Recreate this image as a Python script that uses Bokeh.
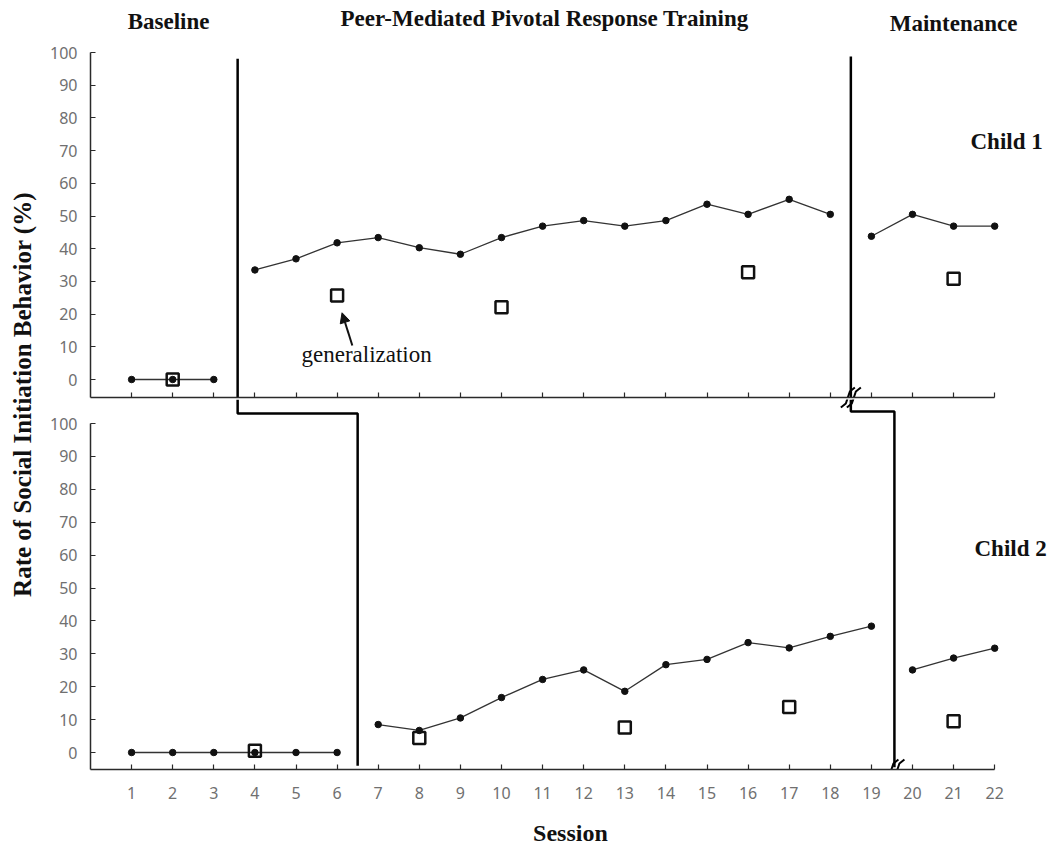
from bokeh.plotting import figure
from bokeh.layouts import row, column
from bokeh.models import Range1d, FixedTicker, Arrow, NormalHead
from bokeh.embed import file_html
from bokeh.resources import INLINE

# ---------------- data ----------------
c1_base_sessions = [1, 2, 3]
c1_base = [0, 0, 0]
c1_int_sessions = [4, 5, 6, 7, 8, 9, 10, 11, 12, 13, 14, 15, 16, 17, 18]
c1_int = [33.5, 36.9, 41.8, 43.4, 40.3, 38.3, 43.4, 46.9, 48.6, 46.9, 48.6, 53.6, 50.5, 55.1, 50.5]
c1_maint_sessions = [19, 20, 21, 22]
c1_maint = [43.8, 50.5, 46.9, 46.9]
c1_gen_sessions = [2, 6, 10, 16, 21]
c1_gen = [0, 25.7, 22.1, 32.8, 30.8]

c2_base_sessions = [1, 2, 3, 4, 5, 6]
c2_base = [0, 0, 0, 0, 0, 0]
c2_int_sessions = [7, 8, 9, 10, 11, 12, 13, 14, 15, 16, 17, 18, 19]
c2_int = [8.5, 6.7, 10.5, 16.7, 22.2, 25.1, 18.6, 26.7, 28.3, 33.4, 31.8, 35.3, 38.4]
c2_maint_sessions = [20, 21, 22]
c2_maint = [25.1, 28.7, 31.7]
c2_gen_sessions = [4, 8, 13, 17, 21]
c2_gen = [0.5, 4.4, 7.6, 13.8, 9.5]

y_ticks = [0, 10, 20, 30, 40, 50, 60, 70, 80, 90, 100]
x_ticks = list(range(1, 23))

phase_labels = ["Baseline", "Peer-Mediated Pivotal Response Training", "Maintenance"]
child_labels = ["Child 1", "Child 2"]
y_title = "Rate of Social Initiation Behavior (%)"
x_title = "Session"
gen_note = "generalization"

# phase-change positions (session units)
c1_change_a = 3.58
c2_change_a = 6.5
c1_change_b = 18.5
c2_change_b = 19.56

# ---------------- geometry (page pixels) ----------------
PX_X = 41.1          # px per session
PX_TOP = 3.27        # px per % (top panel)
PX_BOT = 3.29        # px per % (bottom panel)
LEFT_W = 40
PANEL_W = 1050 - LEFT_W
BORDER_L = 50
BORDER_R = 2
FRAME_W = PANEL_W - BORDER_L - BORDER_R
TOP_H = 399          # frame 0..397
BOT_H = 411          # frame 399..769
SES_H = 847 - TOP_H - BOT_H

def sx(px):
    return (px - 89.9) / PX_X

def ty(py):
    return (379 - py) / PX_TOP

def by(py):
    return (752 - py) / PX_BOT

AX_COL = "#2a2a2a"
LINE_COL = "#333333"
TICK_FONT = "Noto Sans"
TICK_COL = "#707070"
SERIF = "Liberation Serif"


def make_panel(height, yr, border_bottom, show_x_labels):
    f = figure(width=PANEL_W, height=height, x_range=Range1d(0, FRAME_W / PX_X), y_range=yr,
               output_backend="svg", toolbar_location=None,
               min_border_left=BORDER_L, min_border_right=BORDER_R,
               min_border_top=0, min_border_bottom=border_bottom)
    f.xgrid.visible = False
    f.ygrid.visible = False
    f.outline_line_color = None
    for ax in (f.xaxis[0], f.yaxis[0]):
        ax.axis_line_color = AX_COL
        ax.axis_line_width = 1.5
        ax.major_tick_line_color = AX_COL
        ax.major_tick_line_width = 1.2
        ax.major_tick_in = 5
        ax.major_tick_out = 0
        ax.minor_tick_line_color = None
        ax.major_label_text_font = TICK_FONT
        ax.major_label_text_font_size = "16px"
        ax.major_label_text_color = TICK_COL
    f.xaxis[0].bounds = (0, 22)
    if show_x_labels:
        f.xaxis[0].ticker = FixedTicker(ticks=x_ticks)
        f.xaxis[0].major_label_standoff = 17
    else:
        # unlabeled session ticks on the upper panel's baseline
        f.xaxis[0].ticker = FixedTicker(ticks=[], minor_ticks=x_ticks)
        f.xaxis[0].minor_tick_line_color = AX_COL
        f.xaxis[0].minor_tick_line_width = 1.2
        f.xaxis[0].minor_tick_in = 5
        f.xaxis[0].minor_tick_out = 0
        f.xaxis[0].major_label_standoff = 0
    f.yaxis[0].ticker = FixedTicker(ticks=y_ticks)
    f.yaxis[0].bounds = (yr.start, 100)
    f.yaxis[0].major_label_standoff = 13
    return f


top = make_panel(TOP_H, Range1d(ty(397), ty(0)), TOP_H - 397, False)
bot = make_panel(BOT_H, Range1d(by(769), by(399)), BOT_H - (769 - 399), True)


def series(f, xs, ys):
    f.line(xs, ys, line_color=LINE_COL, line_width=1.3)
    f.scatter(xs, ys, marker="circle", size=6.5, fill_color="#111111", line_color="#111111")


for xs, ys in ((c1_base_sessions, c1_base), (c1_int_sessions, c1_int), (c1_maint_sessions, c1_maint)):
    series(top, xs, ys)
for xs, ys in ((c2_base_sessions, c2_base), (c2_int_sessions, c2_int), (c2_maint_sessions, c2_maint)):
    series(bot, xs, ys)

top.scatter(c1_gen_sessions, c1_gen, marker="square", size=12, fill_color=None,
            line_color="#111111", line_width=2.5)
bot.scatter(c2_gen_sessions, c2_gen, marker="square", size=12, fill_color=None,
            line_color="#111111", line_width=2.5)

# ---------------- phase change lines ----------------
PH_W = 2.5
top.line([c1_change_a, c1_change_a], [98.1, top.y_range.start], line_color="black", line_width=PH_W)
top.line([c1_change_b, c1_change_b], [98.8, top.y_range.start], line_color="black", line_width=PH_W)
bot.line([c1_change_a, c1_change_a, c2_change_a, c2_change_a],
         [bot.y_range.end, by(413), by(413), -4], line_color="black", line_width=PH_W)
bot.line([c1_change_b, c1_change_b, c2_change_b, c2_change_b],
         [bot.y_range.end, by(411), by(411), -4.5], line_color="black", line_width=PH_W)

# break marks (axis breaks) where the maintenance line crosses the axes
stroke = [(-7, -10), (-2, -6), (2, 6), (7, 10)]   # pixel offsets, y up

def break_mark(f, xc, yc, pxy):
    xs_all, ys_all = [], []
    for off in (-3, 3):
        xs_all.append([xc + (dx + off) / PX_X for dx, dy in stroke])
        ys_all.append([yc + dy / pxy for dx, dy in stroke])
    f.multi_line(xs_all, ys_all, line_color="black", line_width=2)

break_mark(top, c1_change_b, ty(397), PX_TOP)
break_mark(bot, c1_change_b, by(397), PX_BOT)
break_mark(bot, c2_change_b, by(769), PX_BOT)

# ---------------- texts ----------------
def txt(f, x, y, text, size, style="bold", angle=0.0):
    f.text(x=[x], y=[y], text=[text], text_font={"value": SERIF}, text_font_style=style,
           text_font_size=size, text_align="center", text_baseline="middle",
           text_color="#111111", angle=angle)

txt(top, sx(168), ty(21), phase_labels[0], "23px")
txt(top, sx(544), ty(18), phase_labels[1], "23px")
txt(top, sx(953), ty(23), phase_labels[2], "23px")
txt(top, sx(1006), ty(141), child_labels[0], "23px")
txt(bot, sx(1010), by(548), child_labels[1], "23px")
txt(top, sx(366), ty(354), gen_note, "23px", style="normal")

top.add_layout(Arrow(x_start=c1_gen_sessions[1] + 0.37, y_start=c1_gen[1] - 15.3,
                     x_end=c1_gen_sessions[1] + 0.12, y_end=c1_gen[1] - 5.3,
                     line_color="#111111", line_width=2,
                     end=NormalHead(size=10, fill_color="#111111", line_color="#111111")))

# y-axis title strip
left = figure(width=LEFT_W, height=847, x_range=Range1d(0, LEFT_W), y_range=Range1d(847, 0),
              output_backend="svg", toolbar_location=None,
              min_border_left=0, min_border_right=0, min_border_top=0, min_border_bottom=0)
left.axis.visible = False
left.grid.visible = False
left.outline_line_color = None
txt(left, 22, 394, y_title, "25px", angle=1.5707963)

# x-axis title strip
ses = figure(width=PANEL_W, height=SES_H, x_range=Range1d(LEFT_W, 1050), y_range=Range1d(847, 847 - SES_H),
             output_backend="svg", toolbar_location=None,
             min_border_left=0, min_border_right=0, min_border_top=0, min_border_bottom=0)
ses.axis.visible = False
ses.grid.visible = False
ses.outline_line_color = None
txt(ses, 546, 832, x_title, "24px")

layout = row(left, column(top, bot, ses, spacing=0), spacing=0)

open("out.html", "w").write(file_html(layout, INLINE))
